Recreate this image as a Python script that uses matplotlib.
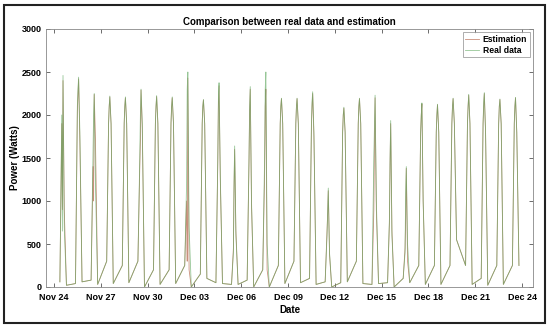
import numpy as np
import matplotlib
matplotlib.use('Agg')
import matplotlib.pyplot as plt
import matplotlib.dates as mdates
from matplotlib.patches import Rectangle
import datetime as dt

plt.rcParams['font.family'] = ['Liberation Sans', 'DejaVu Sans']

start = dt.datetime(2019, 11, 24)
# sample times inside each day (fraction of day)
day_offsets = [0.38, 0.50, 0.54, 0.58, 0.66, 0.80]

# real data, one value per day for each sample
real_morning = [60, 40, 80, 300, 250, 300, 200, 200, 250, 150, 50, 30, 80, 200, 250,
                300, 100, 60, 50, 300, 30, 50, 100, 250, 250, 250, 250, 100, 250, 250]
real_rise = [2000, 2100, 1500, 1900, 1900, 1500, 1900, 1900, 1200, 1900, 1500, 400, 1500, 1500, 1900,
             1900, 1900, 600, 1800, 1900, 1500, 800, 400, 1800, 1800, 1900, 1900, 1900, 1900, 1900]
real_dip = [650, 2300, 2000, 2100, 2100, 2000, 2100, 2100, 2300, 2100, 2200, 1200, 2100, 2300, 2100,
            2100, 2150, 900, 2000, 2100, 1850, 1500, 1100, 2000, 2000, 2100, 2100, 2150, 2100, 2100]
real_peak = [2460, 2440, 2250, 2220, 2210, 2300, 2225, 2210, 2500, 2180, 2375, 1640, 2330, 2500, 2195,
             2195, 2270, 1150, 2090, 2195, 2230, 1935, 1400, 2140, 2125, 2195, 2240, 2260, 2185, 2205]
real_fall = [700, 1800, 1200, 1900, 1900, 1900, 1900, 1900, 700, 1900, 1300, 600, 1000, 500, 1900,
             1900, 1800, 400, 1800, 1900, 1000, 600, 500, 1000, 1800, 1900, 1900, 1800, 1900, 1800]
real_evening = [20, 60, 30, 40, 50, 0, 30, 40, 0, 100, 40, 30, 0, 0, 40,
                50, 30, 0, 60, 40, 40, 0, 50, 30, 30, 550, 30, 20, 30, 250]

# estimation
est_morning = [60, 40, 80, 300, 250, 300, 200, 200, 250, 150, 50, 30, 80, 200, 250,
               300, 100, 60, 50, 300, 30, 50, 100, 250, 250, 250, 250, 100, 250, 250]
est_rise = [1900, 2050, 1400, 1900, 1900, 1400, 1900, 1900, 1000, 1900, 1450, 450, 1450, 1300, 1900,
            1900, 1850, 650, 1800, 1900, 900, 750, 450, 1800, 1800, 1900, 1900, 1900, 1900, 1900]
est_dip = [900, 2250, 1000, 2100, 2100, 1700, 2100, 2100, 300, 2100, 2150, 1150, 2050, 2100, 2100,
           2100, 2100, 850, 2000, 2100, 1700, 1450, 800, 2000, 2000, 2100, 2100, 2100, 2100, 2100]
est_peak = [2400, 2420, 2240, 2210, 2200, 2290, 2215, 2200, 2430, 2175, 2340, 1600, 2300, 2300, 2190,
            2190, 2250, 1120, 2080, 2190, 2200, 1900, 1380, 2130, 2120, 2190, 2230, 2250, 2180, 2200]
est_fall = [900, 1700, 1700, 1900, 1900, 1850, 1900, 1900, 200, 1900, 1250, 650, 950, 200, 1900,
            1900, 1750, 380, 1800, 1900, 900, 650, 300, 1000, 1800, 1900, 1900, 1800, 1900, 1800]
est_evening = [20, 60, 30, 40, 50, 0, 30, 40, 0, 100, 40, 30, 0, 0, 40,
               50, 30, 0, 60, 40, 40, 0, 50, 30, 30, 550, 30, 20, 30, 250]


def build(cols):
    t, v = [], []
    for d in range(len(cols[0])):
        for off, col in zip(day_offsets, cols):
            t.append(start + dt.timedelta(days=d + off))
            v.append(col[d])
    return t, v


t_real, v_real = build([real_morning, real_rise, real_dip, real_peak, real_fall, real_evening])
t_est, v_est = build([est_morning, est_rise, est_dip, est_peak, est_fall, est_evening])

fig = plt.figure(figsize=(5.5, 3.28), dpi=100)
ax = fig.add_axes([46/550, 41/328, 487/550, 258/328])

ax.plot(t_est, v_est, color='#b86a50', lw=0.6, alpha=0.75, label='Estimation')
ax.plot(t_real, v_real, color='#5fa85f', lw=0.6, alpha=0.65, label='Real data')

ax.set_ylim(0, 3000)
ax.set_xlim(start - dt.timedelta(days=0.51), start + dt.timedelta(days=30.7))
ax.set_yticks([0, 500, 1000, 1500, 2000, 2500, 3000])
ax.set_xticks([start + dt.timedelta(days=3*i) for i in range(11)])
ax.xaxis.set_major_formatter(mdates.DateFormatter('%b %d'))

ax.tick_params(direction='in', length=3, width=0.6, color='#555555', labelsize=6.5,
               top=True, right=True)
ax.tick_params(axis='x', pad=4)
ax.tick_params(axis='y', pad=3)
for lab in ax.get_xticklabels() + ax.get_yticklabels():
    lab.set_fontweight('bold')
for s in ax.spines.values():
    s.set_color('#888888')
    s.set_linewidth(0.6)

ax.set_title('Comparison between real data and estimation', fontsize=7, fontweight='bold', pad=3)
ax.set_xlabel('Date', fontsize=7, fontweight='bold', labelpad=2.5)
ax.set_ylabel('Power (Watts)', fontsize=7, fontweight='bold', labelpad=1)

leg = ax.legend(loc='upper right', fontsize=6.2, frameon=True, fancybox=False,
                handlelength=1.6, borderpad=0.3, labelspacing=0.2, handletextpad=0.4,
                borderaxespad=0.4)
leg.get_frame().set_edgecolor('#888888')
leg.get_frame().set_linewidth(0.6)
for txt in leg.get_texts():
    txt.set_fontweight('bold')

fig.patches.append(Rectangle((4/550, 5/328), 541/550, 318/328, transform=fig.transFigure,
                             fill=False, edgecolor='#222222', lw=1.5))

fig.savefig('out.png', dpi=100)
